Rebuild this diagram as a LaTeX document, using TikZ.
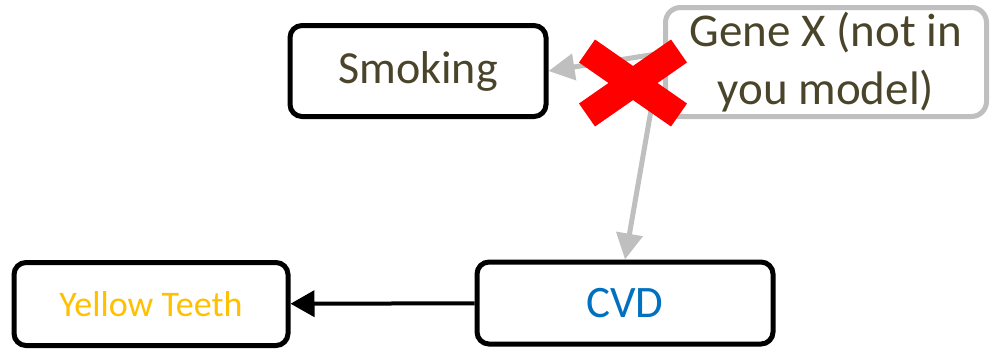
\documentclass[tikz,border=0pt]{standalone}
\usepackage{fontspec}
\setmainfont{Carlito}
\usetikzlibrary{arrows.meta}
\definecolor{darkolive}{HTML}{4A452A}
\definecolor{lightgrey}{HTML}{BFBFBF}
\definecolor{cvdblue}{HTML}{0070C0}
\definecolor{amber}{HTML}{FFC000}

\begin{document}
\begin{tikzpicture}[
        x=1pt, y=-1pt,
        box/.style={rectangle, draw=black, line width=5pt, rounded corners=12pt, fill=white, align=center, inner sep=0pt},
        ghost/.style={box, draw=lightgrey, rounded corners=15pt},
        arrow/.style={-{Triangle[width=26pt, length=24pt]}, line width=4pt, draw=black},
        greyarrow/.style={-{Triangle[width=26pt, length=26pt]}, line width=5pt, draw=lightgrey},
        cross/.style={line width=28pt, draw=red}
    ]
    \useasboundingbox (0,0) rectangle (990,349);

    \node[box, minimum width=256pt, minimum height=91pt, text=darkolive, font=\fontsize{46}{55}\selectfont] (smoking) at (418,71) {Smoking};
    \node[ghost, minimum width=321pt, minimum height=109pt, text=darkolive, font=\fontsize{47}{58}\selectfont] (genex) at (826,62) {Gene X (not in\\you model)};
    \node[box, minimum width=274pt, minimum height=83pt, text=amber, font=\fontsize{36}{43}\selectfont] (teeth) at (151,304) {Yellow Teeth};
    \node[box, minimum width=296pt, minimum height=82pt, text=cvdblue, font=\fontsize{45}{54}\selectfont] (cvd) at (625,303) {CVD};

    \draw[greyarrow] ([yshift=9pt]genex.west) -- (smoking.east);
    \draw[greyarrow] ([xshift=-9pt, yshift=26pt]genex.south west) -- (cvd.north);
    \draw[arrow] (cvd) -- (teeth);

    % the path that is ruled out
    \draw[cross] (587,51) -- (679,115) (679,51) -- (587,115);
\end{tikzpicture}
\end{document}
